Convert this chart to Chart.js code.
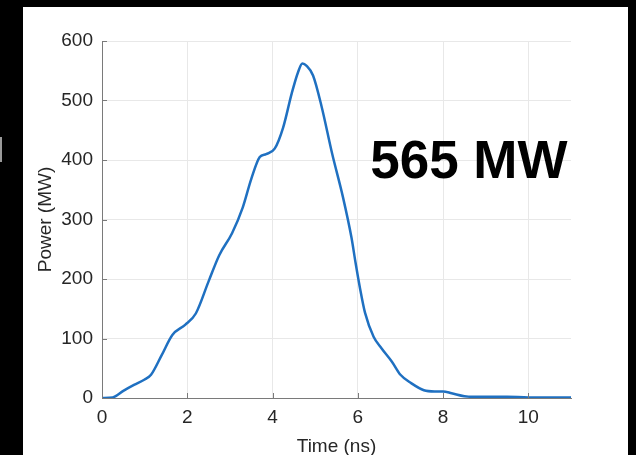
<!DOCTYPE html>
<html>
<head>
<meta charset="utf-8">
<script src="https://cdn.jsdelivr.net/npm/chart.js@4.4.1/dist/chart.umd.min.js"></script>
<style>
  html, body { margin: 0; padding: 0; background: #000; overflow: hidden; }
  #panel { position: absolute; left: 23px; top: 7px; width: 605px; height: 448px; background: #fff; }
  #mark { position: absolute; left: 0; top: 137px; width: 2px; height: 25px; background: #9a9a9a; }
  canvas { position: absolute; left: 0; top: 0; }
</style>
</head>
<body>
<div id="panel"></div>
<div id="mark"></div>
<canvas id="power" width="636" height="455"></canvas>
<script>
// pulse
const timeNs  = [0, 0.25, 0.5, 0.75, 1.0, 1.15, 1.4, 1.65, 1.95, 2.2, 2.5, 2.75, 3.05, 3.3, 3.5, 3.7, 3.85, 4.05, 4.25, 4.45, 4.6, 4.7, 4.8, 4.95, 5.15, 5.4, 5.65, 5.85, 5.95, 6.05, 6.17, 6.37, 6.55, 6.8, 7.0, 7.25, 7.55, 7.8, 8.0, 8.2, 8.5, 8.7, 9.0, 9.5, 10, 10.5, 11];
const powerMW = [0, 1, 12, 22, 31, 39, 72, 106, 123, 142, 196, 240, 277, 320, 368, 405, 410, 419, 455, 512, 548, 562, 558, 542, 490, 410, 338, 270, 226, 185, 143, 103, 84, 61, 39, 25, 13, 11, 11, 8, 3, 2, 2, 2, 1, 1, 1];

const xTicks = [0, 2, 4, 6, 8, 10];
const yTicks = [0, 100, 200, 300, 400, 500, 600];

const peakText = '565 MW';
const peakTextAt = { t: 6.29, p: 370 };

const ctx = document.getElementById('power');

// matlab style ticks pointing into the plot + big label
const extras = {
  id: 'extras',
  afterDraw(chart) {
    const c = chart.ctx;
    const x = chart.scales.x, y = chart.scales.y;
    const area = chart.chartArea;
    c.save();
    c.strokeStyle = '#7a7a7a';
    c.lineWidth = 1;
    c.beginPath();
    xTicks.forEach(v => {
      const px = Math.round(x.getPixelForValue(v)) + 0.5;
      c.moveTo(px, area.bottom);
      c.lineTo(px, area.bottom - 5);
    });
    yTicks.forEach(v => {
      const py = Math.round(y.getPixelForValue(v)) + 0.5;
      c.moveTo(area.left, py);
      c.lineTo(area.left + 5, py);
    });
    c.stroke();

    c.fillStyle = '#000';
    c.font = 'bold 53px "Liberation Sans", Arial, sans-serif';
    c.textAlign = 'left';
    c.textBaseline = 'alphabetic';
    c.fillText(peakText, x.getPixelForValue(peakTextAt.t), y.getPixelForValue(peakTextAt.p));
    c.restore();
  }
};

new Chart(ctx, {
  type: 'line',
  data: {
    datasets: [{
      label: 'Power',
      data: timeNs.map((t, i) => ({ x: t, y: powerMW[i] })),
      borderColor: '#1f70c1',
      borderWidth: 2.5,
      pointRadius: 0,
      fill: false,
      cubicInterpolationMode: 'monotone'
    }]
  },
  options: {
    responsive: false,
    animation: false,
    layout: { padding: { left: 0, top: 41, right: 65, bottom: 0 } },
    plugins: { legend: { display: false }, tooltip: { enabled: false } },
    scales: {
      x: {
        type: 'linear',
        min: 0,
        max: 11,
        afterFit(scale) { scale.height = 57; },
        ticks: {
          stepSize: 2,
          includeBounds: false,
          padding: 8,
          color: '#262626',
          font: { family: '"Liberation Sans", Arial, sans-serif', size: 19 }
        },
        grid: { color: '#e8e8e8', drawTicks: false },
        border: { color: '#7a7a7a', width: 1 },
        title: {
          display: true,
          text: 'Time (ns)',
          color: '#262626',
          font: { family: '"Liberation Sans", Arial, sans-serif', size: 19 },
          padding: { top: 0, bottom: -3 }
        }
      },
      y: {
        min: 0,
        max: 600,
        afterFit(scale) { scale.width = 102; },
        ticks: {
          stepSize: 100,
          padding: 9,
          color: '#262626',
          font: { family: '"Liberation Sans", Arial, sans-serif', size: 19 }
        },
        grid: { color: '#e8e8e8', drawTicks: false },
        border: { color: '#7a7a7a', width: 1 },
        title: {
          display: true,
          text: 'Power (MW)',
          color: '#262626',
          font: { family: '"Liberation Sans", Arial, sans-serif', size: 19 },
          padding: { top: 34, bottom: 0 }
        }
      }
    }
  },
  plugins: [extras]
});
</script>
</body>
</html>
